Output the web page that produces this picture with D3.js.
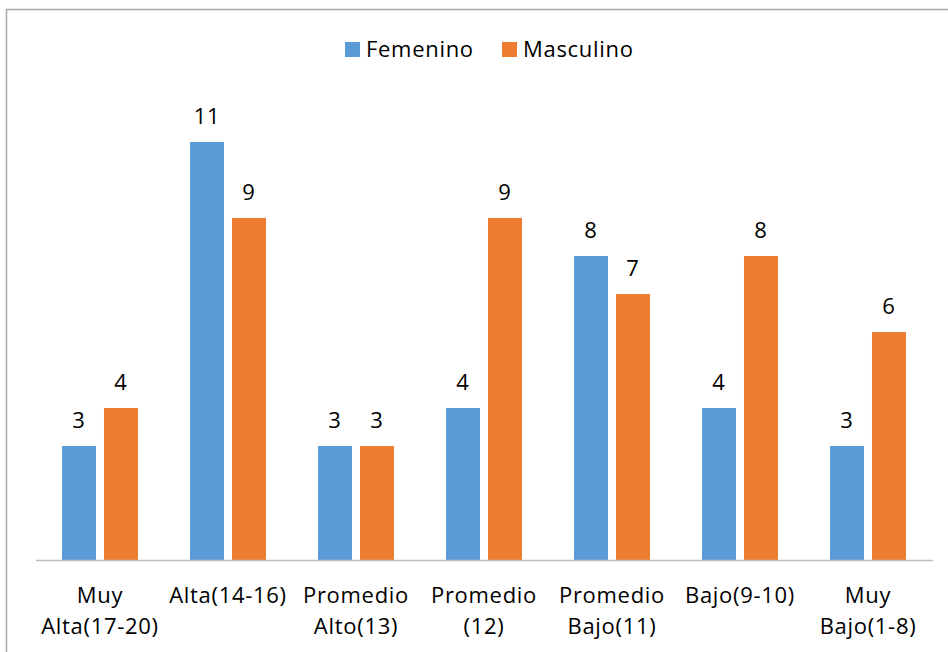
<!DOCTYPE html>
<html>
<head>
<meta charset="utf-8">
<script src="https://cdn.jsdelivr.net/npm/d3@7"></script>
<style>
  body { margin: 0; background: #fff; }
  text { font-family: "Open Sans", sans-serif; fill: #000; letter-spacing: 0.7px; }
</style>
</head>
<body>
<div id="chart"></div>
<script>
var categories = ['Muy Alta(17-20)', 'Alta(14-16)', 'Promedio Alto(13)', 'Promedio (12)',
  'Promedio Bajo(11)', 'Bajo(9-10)', 'Muy Bajo(1-8)'];
var series = ['Femenino', 'Masculino'];
var femenino = [3, 11, 3, 4, 8, 4, 3];
var masculino = [4, 9, 3, 9, 7, 8, 6];
var colors = ['#5B9BD5', '#ED7D31'];

var W = 948, H = 652;
var svg = d3.select('#chart').append('svg').attr('width', W).attr('height', H);

// chart area border (runs past the right/bottom edge)
svg.append('rect').attr('x', 6.5).attr('y', 9.5).attr('width', 960).attr('height', 700)
  .attr('fill', 'none').attr('stroke', '#a6a6a6').attr('stroke-width', 1.5);

var x0 = d3.scaleBand().domain(categories).range([36, 932]);
var x1 = d3.scaleBand().domain(series).range([26, 102]).paddingInner(0.19);
var y = d3.scaleLinear().domain([0, 12]).range([560, 104]);

var rows = categories.map(function(c, i) {
  return { cat: c, vals: [femenino[i], masculino[i]] };
});

var groups = svg.selectAll('g.grp').data(rows).enter().append('g')
  .attr('class', 'grp')
  .attr('transform', function(d) { return 'translate(' + x0(d.cat) + ',0)'; });

groups.selectAll('rect').data(function(d) {
  return d.vals.map(function(v, j) { return { s: series[j], v: v, j: j }; });
}).enter().append('rect')
  .attr('x', function(d) { return x1(d.s); })
  .attr('width', x1.bandwidth())
  .attr('y', function(d) { return y(d.v); })
  .attr('height', function(d) { return y(0) - y(d.v); })
  .attr('fill', function(d) { return colors[d.j]; });

groups.selectAll('text.val').data(function(d) {
  return d.vals.map(function(v, j) { return { s: series[j], v: v }; });
}).enter().append('text')
  .attr('class', 'val')
  .attr('x', function(d) { return x1(d.s) + x1.bandwidth() / 2; })
  .attr('y', function(d) { return y(d.v) - 18; })
  .attr('text-anchor', 'middle')
  .style('font-size', '22px')
  .text(function(d) { return d.v; });

// axis line
svg.append('line').attr('x1', 36).attr('x2', 933).attr('y1', 560.5).attr('y2', 560.5)
  .attr('stroke', '#bfbfbf').attr('stroke-width', 1.5);

// category labels, wrapped at the space
var labels = svg.selectAll('text.cat').data(categories).enter().append('text')
  .attr('class', 'cat')
  .attr('text-anchor', 'middle')
  .style('font-size', '22px')
  .attr('transform', function(d) { return 'translate(' + (x0(d) + x0.bandwidth() / 2) + ',0)'; });
labels.each(function(d) {
  var parts = d.split(' ');
  var t = d3.select(this);
  parts.forEach(function(p, i) {
    t.append('tspan').attr('x', 0).attr('y', 603 + i * 31).text(p);
  });
});

// legend
var legend = svg.append('g');
var lx = [345, 502];
series.forEach(function(s, i) {
  legend.append('rect').attr('x', lx[i]).attr('y', 42).attr('width', 15).attr('height', 15)
    .attr('fill', colors[i]);
  legend.append('text').attr('x', lx[i] + 21).attr('y', 57)
    .style('font-size', '22px').text(s);
});
</script>
</body>
</html>
